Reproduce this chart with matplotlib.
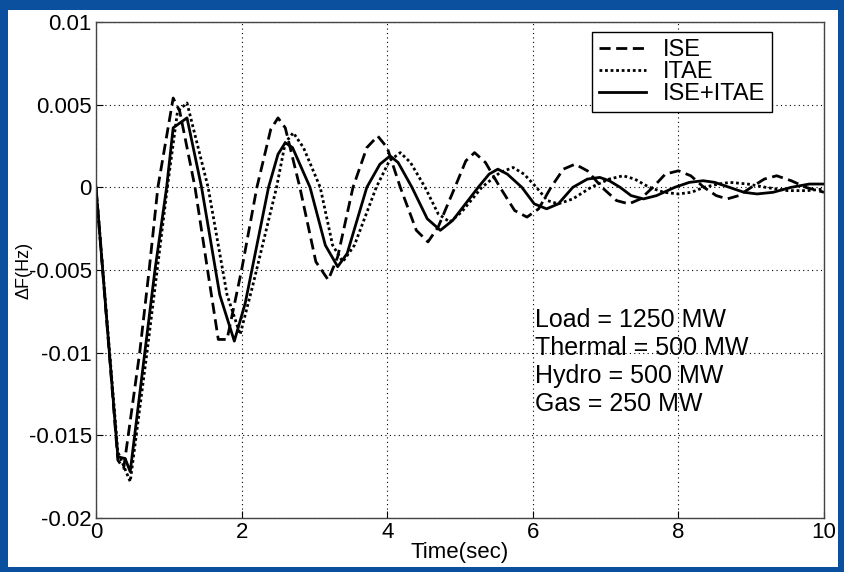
import matplotlib
matplotlib.use('Agg')
import matplotlib.pyplot as plt
from matplotlib.patches import Rectangle

plt.rcParams['font.family'] = ['Liberation Sans', 'DejaVu Sans']

# ISE (dashed)
t_ise = [0, 0.30, 0.38, 0.60, 0.73, 0.85, 1.06, 1.15, 1.36, 1.55, 1.68, 1.80, 2.00, 2.21,
         2.40, 2.50, 2.60, 2.80, 3.02, 3.19, 3.32, 3.53, 3.72, 3.87, 4.00, 4.18,
         4.40, 4.56, 4.70, 4.93, 5.08, 5.20, 5.35, 5.55, 5.75, 5.92, 6.08, 6.25,
         6.42, 6.58, 6.75, 6.95, 7.15, 7.32, 7.48, 7.65, 7.82, 8.00, 8.17, 8.35,
         8.52, 8.67, 8.83, 9.00, 9.18, 9.35, 9.55, 9.75, 10.0]
v_ise = [0, -0.0165, -0.0170, -0.0100, -0.0050, 0, 0.0054, 0.0046, 0, -0.0055, -0.0092, -0.0092, -0.0050, 0,
         0.0035, 0.0042, 0.0036, 0, -0.0045, -0.0056, -0.0042, 0, 0.0024, 0.0031, 0.0024, 0,
         -0.0026, -0.0033, -0.0024, 0, 0.0016, 0.0021, 0.0015, 0, -0.0014, -0.0018, -0.0013, 0,
         0.0011, 0.0014, 0.0010, 0, -0.0008, -0.0010, -0.0007, 0, 0.0008, 0.0010, 0.0007, 0,
         -0.0005, -0.0007, -0.0005, 0, 0.0005, 0.0007, 0.0004, 0, -0.0003]

# ITAE (dotted)
t_itae = [0, 0.30, 0.47, 0.70, 0.84, 0.98, 1.12, 1.25, 1.54, 1.80, 1.98, 2.15, 2.48,
          2.60, 2.71, 2.85, 3.08, 3.25, 3.39, 3.55, 3.85, 4.03, 4.18, 4.32, 4.52,
          4.70, 4.86, 5.02, 5.30, 5.55, 5.73, 5.88, 6.05, 6.20, 6.35, 6.55, 6.80,
          7.05, 7.24, 7.40, 7.60, 7.80, 8.00, 8.18, 8.35, 8.55, 8.71, 8.95, 9.20,
          9.50, 9.77, 10.0]
v_itae = [0, -0.0160, -0.0178, -0.0100, -0.0050, 0, 0.0046, 0.0051, 0, -0.0065, -0.0089, -0.0060, 0,
          0.0027, 0.0033, 0.0024, 0, -0.0035, -0.0045, -0.0035, 0, 0.0016, 0.0021, 0.0015, 0,
          -0.0016, -0.0021, -0.0015, 0, 0.0009, 0.0012, 0.0008, 0, -0.0008, -0.0010, -0.0007, 0,
          0.0005, 0.0007, 0.0005, 0, -0.0003, -0.0004, -0.0003, 0, 0.0002, 0.0003, 0.0002, 0,
          -0.0002, -0.0002, -0.0001]

# ISE+ITAE (solid)
t_both = [0, 0.30, 0.40, 0.47, 0.67, 0.81, 0.97, 1.06, 1.25, 1.45, 1.70, 1.90, 2.05, 2.37,
          2.50, 2.60, 2.70, 2.94, 3.15, 3.32, 3.45, 3.72, 3.90, 4.04, 4.15, 4.34,
          4.55, 4.73, 4.90, 5.25, 5.40, 5.52, 5.65, 5.85, 6.02, 6.19, 6.35, 6.55,
          6.75, 6.92, 7.05, 7.20, 7.35, 7.52, 7.70, 7.95, 8.15, 8.34, 8.50, 8.70,
          8.90, 9.08, 9.30, 9.55, 9.80, 10.0]
v_both = [0, -0.0163, -0.0164, -0.0172, -0.0100, -0.0050, 0, 0.0036, 0.0042, 0, -0.0065, -0.0093, -0.0070, 0,
          0.0020, 0.0027, 0.0024, 0, -0.0035, -0.0048, -0.0040, 0, 0.0014, 0.0019, 0.0015, 0,
          -0.0019, -0.0026, -0.0020, 0, 0.0008, 0.0011, 0.0008, 0, -0.0010, -0.0013, -0.0010, 0,
          0.0005, 0.0006, 0.0004, 0, -0.0005, -0.0007, -0.0005, 0, 0.0003, 0.0004, 0.0003, 0,
          -0.0003, -0.0004, -0.0003, 0, 0.0002, 0.0002]

note_lines = ['Load = 1250 MW', 'Thermal = 500 MW', 'Hydro = 500 MW', 'Gas = 250 MW']
xticks = [0, 2, 4, 6, 8, 10]
yticks = [-0.02, -0.015, -0.01, -0.005, 0, 0.005, 0.01]
ytick_labels = ['-0.02', '-0.015', '-0.01', '-0.005', '0', '0.005', '0.01']

fig = plt.figure(figsize=(8.45, 5.72), dpi=100)
fig.patch.set_facecolor('#0b4f9f')
bg = Rectangle((8/845, 1-567/572), 830/845, 557/572,
               transform=fig.transFigure, facecolor='white',
               edgecolor='none', zorder=-10)
fig.add_artist(bg)

ax = fig.add_axes([96/845, 1-518/572, 728/845, 496/572])
ax.set_zorder(1)
ax.plot(t_ise, v_ise, color='black', lw=2.0, linestyle=(0, (4, 2)), label='ISE')
ax.plot(t_itae, v_itae, color='black', lw=2.0, linestyle=(0, (1, 1)), label='ITAE')
ax.plot(t_both, v_both, color='black', lw=2.0, linestyle='-', label='ISE+ITAE')

ax.set_xlim(0, 10)
ax.set_ylim(-0.02, 0.01)
ax.set_xticks(xticks)
ax.set_yticks(yticks)
ax.set_yticklabels(ytick_labels)
ax.tick_params(direction='in', length=5, labelsize=16, pad=3)
ax.grid(True, color='black', linestyle=(0, (1, 3)), linewidth=0.8)
for s in ax.spines.values():
    s.set_color('#444444')
    s.set_linewidth(1.0)

ax.set_xlabel('Time(sec)', fontsize=16, labelpad=-1)
ax.set_ylabel('ΔF(Hz)', fontsize=13, labelpad=-3)

leg = ax.legend(loc='upper left', bbox_to_anchor=(0.681, 0.98), fontsize=17,
                fancybox=False, framealpha=1, edgecolor='black',
                handlelength=2.0, borderaxespad=0, handletextpad=0.7,
                labelspacing=0.0, borderpad=0.3)
leg.get_frame().set_linewidth(1.0)

for i, line in enumerate(note_lines):
    ax.text(6.03, -0.0080 - i*0.00170, line, fontsize=18, va='center', ha='left')

fig.savefig('out.png', dpi=100, facecolor=fig.get_facecolor())
